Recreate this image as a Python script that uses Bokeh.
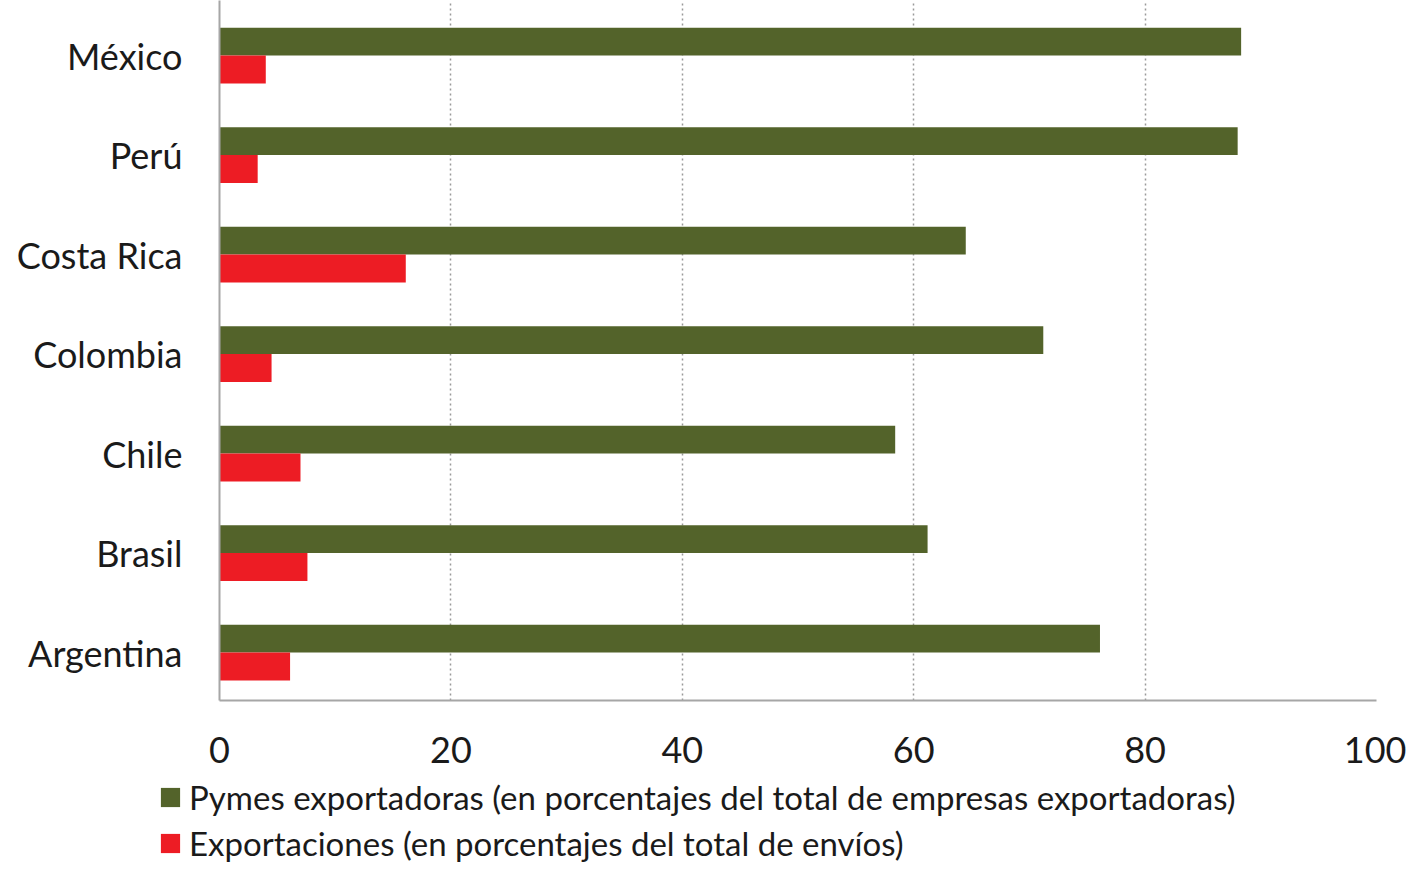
from bokeh.plotting import figure
from bokeh.layouts import column, row
from bokeh.models import Range1d, FixedTicker, Legend, LegendItem
from bokeh.embed import file_html
from bokeh.resources import INLINE
from bokeh.transform import dodge

countries = ["México", "Perú", "Costa Rica", "Colombia", "Chile", "Brasil", "Argentina"]
pymes = [88.3, 88.0, 64.5, 71.2, 58.4, 61.2, 76.1]
exportaciones = [4.0, 3.3, 16.1, 4.5, 7.0, 7.6, 6.1]
x_ticks = [0, 20, 40, 60, 80, 100]
label_pymes = "Pymes exportadoras (en porcentajes del total de empresas exportadoras)"
label_export = "Exportaciones (en porcentajes del total de envíos)"

GREEN = "#53632A"
RED = "#ED1C24"
FONT = "Lato"

n = len(countries)
pos = [n - 1 - i for i in range(n)]
data = dict(pos=pos, country=countries, pymes=pymes, export=exportaciones)

W = 1406
p = figure(width=W, height=775, output_backend="svg", toolbar_location=None,
           x_range=Range1d(0, 100), y_range=Range1d(-0.482, 6.553),
           min_border_left=219, min_border_right=30, min_border_top=0,
           min_border_bottom=75)
p.outline_line_color = None
p.background_fill_color = "white"

bh = 0.28
p.hbar(y=dodge("pos", bh / 2), right="pymes", left=0, height=bh, source=data,
       fill_color=GREEN, line_color=None)
p.hbar(y=dodge("pos", -bh / 2), right="export", left=0, height=bh, source=data,
       fill_color=RED, line_color=None)

p.xaxis.ticker = FixedTicker(ticks=x_ticks)
p.yaxis.ticker = FixedTicker(ticks=pos)
p.yaxis.major_label_overrides = {pp: c for pp, c in zip(pos, countries)}

for ax in (p.xaxis[0], p.yaxis[0]):
    ax.axis_line_color = "#A6A6A6"
    ax.axis_line_width = 2
    ax.major_tick_line_color = None
    ax.minor_tick_line_color = None
    ax.major_label_text_font = FONT
    ax.major_label_text_font_size = "36px"
    ax.major_label_text_color = "#1a1a1a"
p.xaxis.major_label_standoff = 30
p.yaxis.major_label_standoff = 31

p.ygrid.grid_line_color = None
p.xgrid.grid_line_color = "#9A9A9A"
p.xgrid.grid_line_dash = "2 3"
p.xgrid.grid_line_width = 1.5

# legend figure (its bars lie outside its visible range; only the legend shows)
lg = figure(width=W, height=88, output_backend="svg", toolbar_location=None,
            x_range=Range1d(0, 100), y_range=Range1d(100, 101), min_border=0)
lg.axis.visible = False
lg.grid.grid_line_color = None
lg.outline_line_color = None
d1 = lg.hbar(y="pos", right="pymes", left=0, height=bh, source=data,
             fill_color=GREEN, line_color=None)
d2 = lg.hbar(y="pos", right="export", left=0, height=bh, source=data,
             fill_color=RED, line_color=None)
legend = Legend(items=[LegendItem(label=label_pymes, renderers=[d1], index=0),
                       LegendItem(label=label_export, renderers=[d2], index=0)],
                location=(158, 0), orientation="vertical",
                glyph_width=24, glyph_height=24, label_height=30, spacing=6,
                label_standoff=7, padding=0, margin=0,
                border_line_color=None, background_fill_alpha=0,
                label_text_font=FONT, label_text_font_size="33px",
                label_text_color="#1a1a1a")
lg.add_layout(legend)

layout = column(p, row(lg), spacing=0)
open("out.html", "w").write(file_html(layout, INLINE))
